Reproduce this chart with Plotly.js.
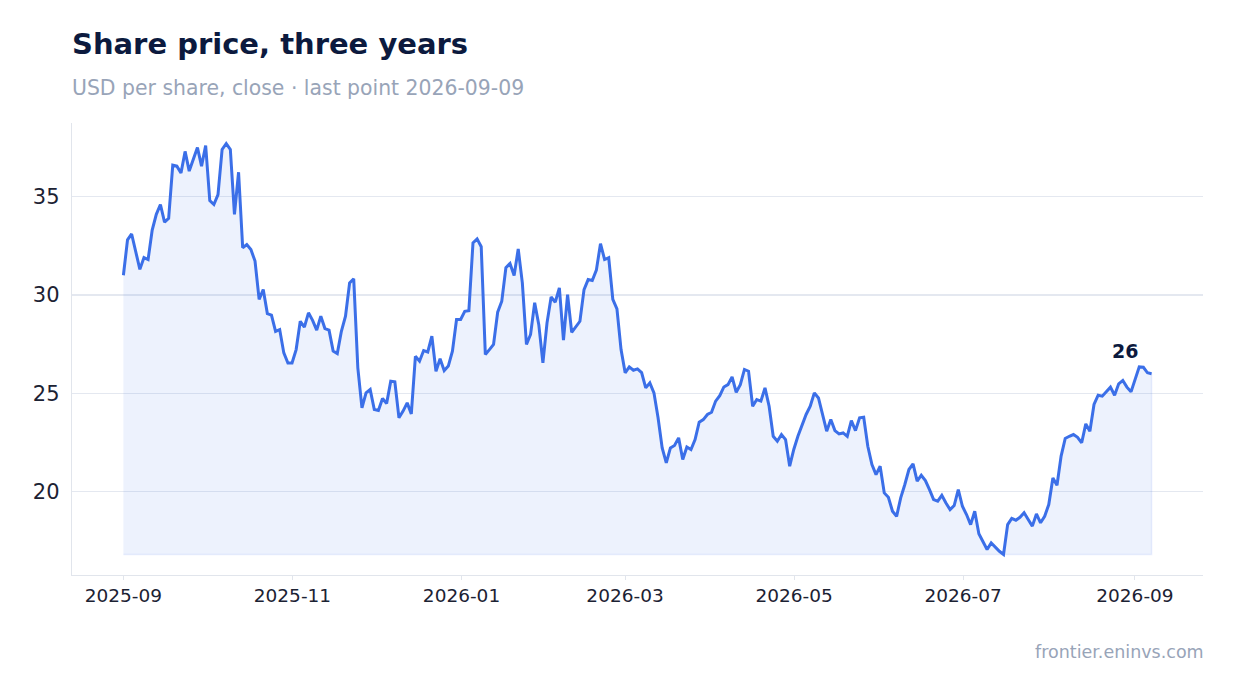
<!DOCTYPE html>
<html>
<head>
<meta charset="utf-8">
<script src="https://cdn.plot.ly/plotly-3.0.1.min.js"></script>
<style>
  html, body { margin: 0; padding: 0; background: #ffffff; }
  #chart { width: 1234px; height: 693px; }
</style>
</head>
<body>
<div id="chart"></div>
<script>
// first and last date of the series, points are evenly spaced between them
const startDate = '2025-09-01';
const endDate = '2026-09-07';

// close price, USD per share
const price = [
  31.0, 32.8, 33.1, 32.2, 31.3, 31.9, 31.8, 33.3, 34.1, 34.6,
  33.7, 33.9, 36.6, 36.55, 36.2, 37.3, 36.3, 36.9, 37.5, 36.55,
  37.6, 34.8, 34.6, 35.1, 37.4, 37.7, 37.4, 34.1,
  36.24, 32.4, 32.56, 32.31, 31.72, 29.77, 30.27, 29.05, 28.97, 28.15,
  28.24, 27.05, 26.54, 26.54, 27.22, 28.66, 28.36, 29.09, 28.71, 28.21,
  28.92, 28.29, 28.21, 27.14, 27.02, 28.15, 28.92, 30.61, 30.82,
  26.29, 24.26, 25.02, 25.19, 24.17, 24.12, 24.73, 24.48, 25.61, 25.58,
  23.75, 24.09, 24.51, 23.95, 26.88, 26.63, 27.17, 27.1, 27.9, 26.12,
  26.75, 26.15, 26.38, 27.14, 28.75, 28.75, 29.17, 29.2,
  32.65, 32.85, 32.45, 26.97, 27.22, 27.48, 29.12, 29.68, 31.38, 31.6,
  30.99, 32.34, 30.61, 27.48, 27.99, 29.6, 28.49, 26.54, 28.58, 29.9,
  29.63, 30.36, 27.7, 30.02, 28.1, 28.38, 28.66, 30.27, 30.78, 30.73,
  31.26, 32.61, 31.8, 31.89, 29.77, 29.29, 27.22, 26.04, 26.34, 26.17,
  26.24, 26.05,
  25.27, 25.53, 25.02, 23.75, 22.22, 21.46, 22.22, 22.34, 22.73, 21.63,
  22.27, 22.14, 22.64, 23.53, 23.66, 23.92, 24.03, 24.6, 24.88, 25.32,
  25.44,
  25.83, 25.05, 25.44, 26.21, 26.12, 24.34, 24.68, 24.6, 25.27, 24.34,
  22.81, 22.56, 22.9, 22.64, 21.29, 22.14, 22.81, 23.41, 23.92, 24.34,
  25.02,
  24.76, 23.92, 23.07, 23.66, 23.1, 22.93, 22.98, 22.81, 23.61, 23.1,
  23.75, 23.78, 22.3, 21.37, 20.86, 21.29, 19.93, 19.71, 19.0, 18.74,
  19.68, 20.36, 21.12, 21.41, 20.53, 20.83, 20.56, 20.1, 19.59, 19.51,
  19.81, 19.42, 19.08, 19.29, 20.1, 19.25, 18.83, 18.32, 19.0, 17.85,
  17.47,
  17.05, 17.39, 17.17, 16.96, 16.8, 18.32, 18.63, 18.54, 18.69, 18.92,
  18.58, 18.24, 18.86, 18.41, 18.74, 19.34, 20.69, 20.32, 21.8, 22.7,
  22.81,
  22.9, 22.76, 22.48, 23.44, 23.07, 24.43, 24.9, 24.85, 25.1, 25.31,
  24.9, 25.48, 25.65, 25.31, 25.07, 25.7, 26.34, 26.32, 26.04, 25.99
];

const xTickVals = ['2025-09-01', '2025-11-01', '2026-01-01', '2026-03-01', '2026-05-01', '2026-07-01', '2026-09-01'];
const xTickText = ['2025-09', '2025-11', '2026-01', '2026-03', '2026-05', '2026-07', '2026-09'];
const yTickVals = [20, 25, 30, 35];

const blue = '#3b6fe8';

function fmt(ms) {
  return new Date(ms).toISOString().slice(0, 19).replace('T', ' ');
}

const t0 = Date.parse(startDate + 'T00:00:00Z');
const t1 = Date.parse(endDate + 'T00:00:00Z');
const step = (t1 - t0) / (price.length - 1);
const dates = price.map((_, i) => fmt(t0 + i * step));

const lo = Math.min(...price);
const hi = Math.max(...price);
const yPad = (hi - lo) * 0.05;
const xPad = (t1 - t0) * 0.05;

// shaded band from the series down to its lowest value
const band = {
  x: dates.concat(dates.slice().reverse()),
  y: price.concat(price.map(() => lo)),
  type: 'scatter',
  mode: 'lines',
  fill: 'toself',
  fillcolor: 'rgba(59,111,232,0.09)',
  line: { color: 'rgba(59,111,232,0.10)', width: 1.5 },
  hoverinfo: 'skip'
};

const line = {
  x: dates,
  y: price,
  type: 'scatter',
  mode: 'lines',
  line: { color: blue, width: 3 },
  name: 'Close'
};

const last = price[price.length - 1];

const layout = {
  width: 1234,
  height: 693,
  margin: { l: 72, r: 31, t: 123, b: 118 },
  paper_bgcolor: '#ffffff',
  plot_bgcolor: '#ffffff',
  font: { family: 'DejaVu Sans', color: '#1c2233' },
  showlegend: false,
  title: {
    text: '<b>Share price, three years</b>',
    font: { size: 29, color: '#0c1a3e' },
    xref: 'paper',
    x: 0,
    xanchor: 'left',
    yref: 'container',
    y: 1 - 44 / 693,
    yanchor: 'middle'
  },
  xaxis: {
    type: 'date',
    range: [fmt(t0 - xPad), fmt(t1 + xPad)],
    tickvals: xTickVals,
    ticktext: xTickText,
    tickfont: { size: 18.5, color: '#1c2233' },
    showgrid: false,
    zeroline: false,
    showline: true,
    linecolor: '#e1e5ec',
    linewidth: 1.2,
    ticks: 'outside',
    ticklen: 4,
    tickcolor: '#e1e5ec'
  },
  yaxis: {
    range: [lo - yPad, hi + yPad],
    tickvals: yTickVals,
    tickfont: { size: 21, color: '#1c2233' },
    showgrid: true,
    gridcolor: '#e4e8f0',
    gridwidth: 1.3,
    zeroline: false,
    showline: true,
    linecolor: '#e1e5ec',
    linewidth: 1.2,
    ticks: 'outside',
    ticklen: 4,
    tickcolor: '#ffffff',
    ticklabelstandoff: 3
  },
  annotations: [
    {
      text: 'USD per share, close · last point 2026-09-09',
      xref: 'paper', yref: 'paper',
      x: 0, y: 1 + 35 / 452,
      xanchor: 'left', yanchor: 'middle',
      xshift: -2,
      showarrow: false,
      font: { size: 20.4, color: '#98a4b8' }
    },
    {
      text: 'frontier.eninvs.com',
      xref: 'paper', yref: 'paper',
      x: 1, y: -77 / 452,
      xanchor: 'right', yanchor: 'middle',
      xshift: 3,
      showarrow: false,
      font: { size: 17.5, color: '#98a4b8' }
    },
    {
      text: '<b>' + Math.round(last) + '</b>',
      x: dates[dates.length - 1], y: last,
      xanchor: 'right', yanchor: 'bottom',
      xshift: -12, yshift: 10,
      showarrow: false,
      font: { size: 19, color: '#0c1a3e' }
    }
  ]
};

Plotly.newPlot('chart', [band, line], layout, { displayModeBar: false, staticPlot: true });
</script>
</body>
</html>
